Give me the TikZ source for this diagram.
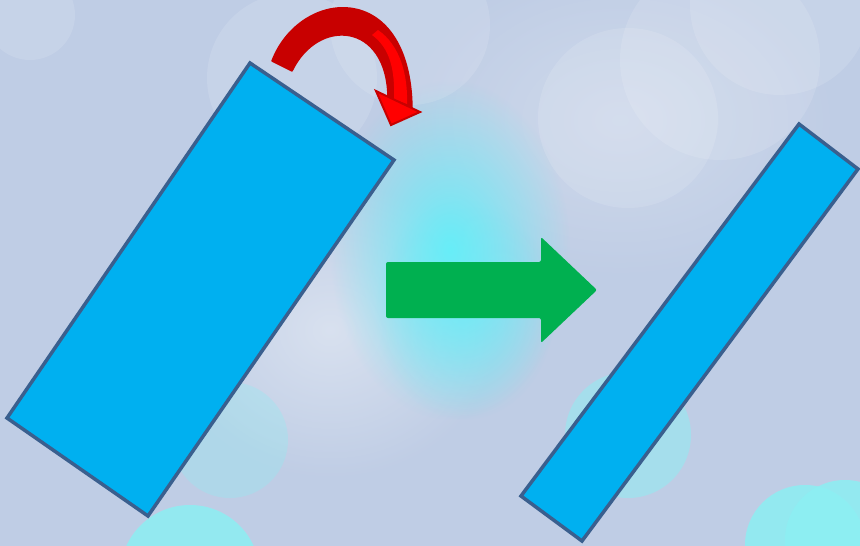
\documentclass[tikz,border=0pt]{standalone}
\usetikzlibrary{fadings}
\definecolor{bgblue}{HTML}{BFCDE5}
\definecolor{glowcyan}{HTML}{68EEF8}
\definecolor{bokehcyan}{HTML}{8CEFF3}
\definecolor{barblue}{HTML}{00B0F0}
\definecolor{barline}{HTML}{3A5F8E}
\definecolor{arrowgreen}{HTML}{00B050}
\definecolor{darkred}{HTML}{C80000}
\definecolor{brightred}{HTML}{FF0000}
\tikzfading[name=softglow, inner color=transparent!0, outer color=transparent!100]
\tikzset{
  bar/.style={fill=barblue,draw=barline,line width=3.5pt,line join=miter},
  bokeh/.style={fill=white,opacity=.12},
  cyanbokeh/.style={fill=bokehcyan,opacity=.85},
}
\begin{document}
\begin{tikzpicture}[x=1pt,y=-1pt,line join=round,line cap=round]
\useasboundingbox (0,0) rectangle (860,546);
% background
\fill[bgblue] (0,0) rectangle (860,546);
\fill[white,opacity=.4,path fading=softglow] (330,330) ellipse (170pt and 150pt);
\fill[white,opacity=.25,path fading=softglow] (620,120) ellipse (220pt and 160pt);
\fill[glowcyan,path fading=softglow] (450,250) ellipse (120pt and 170pt);
\fill[glowcyan,opacity=.6,path fading=softglow] (465,310) ellipse (90pt and 110pt);
\foreach \cx/\cy/\r in {30/15/45,292/78/85,410/25/80,628/118/90,720/60/100,780/5/90}
  {\fill[bokeh] (\cx,\cy) circle (\r pt);}
\fill[bokehcyan,opacity=.3] (230,440) circle (58pt);
\fill[bokehcyan,opacity=.5] (628,435) circle (63pt);
\foreach \cx/\cy/\r in {190/575/70,805/545/60,845/540/60}
  {\fill[cyanbokeh] (\cx,\cy) circle (\r pt);}
% left bar
\path (250,63) coordinate (A)
      (394,160) coordinate (B)
      (148,516) coordinate (C)
      (7,418) coordinate (D);
\draw[bar] (A)--(B)--(C)--(D)--cycle;
% right bar
\path (799,124) coordinate (E)
      (858,169) coordinate (F)
      (582,541) coordinate (G)
      (521,496) coordinate (H);
\draw[bar] (E)--(F)--(G)--(H)--cycle;
% green arrow
\fill[arrowgreen,rounded corners=2pt] (386,262) -- (541,262) -- (541,237)
  -- (597,290) -- (541,343) -- (541,318) -- (386,318) -- cycle;
% red curved arrow
\path (272,61) coordinate (t1)
      (292,71) coordinate (t2)
      (412,108) coordinate (o1)
      (388,97) coordinate (i1)
      (376,91) coordinate (h1)
      (420,112) coordinate (h2)
      (391,125) coordinate (h3);
\filldraw[fill=darkred,draw=darkred,line width=1.5pt]
  (t1) .. controls (300,-12) and (410,-22) .. (o1)
  -- (i1) .. controls (387,22) and (318,17) .. (t2) -- cycle;
\fill[brightred] (378,30) .. controls (400,45) and (408,75) .. (407,104)
  -- (394,99) .. controls (395,70) and (390,48) .. (372,35) -- cycle;
\filldraw[fill=brightred,draw=darkred,line width=2pt,line join=miter]
  (h1) -- (h2) -- (h3) -- cycle;
\end{tikzpicture}
\end{document}
